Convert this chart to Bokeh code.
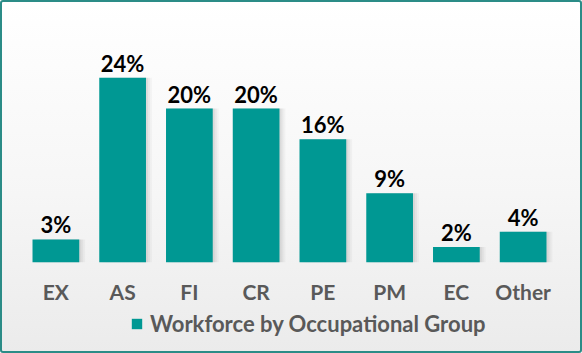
from bokeh.plotting import figure
from bokeh.models import ColumnDataSource, LabelSet, Legend, LegendItem, Range1d, FactorRange
from bokeh.core.properties import value
from bokeh.transform import dodge
from bokeh.layouts import column
from bokeh.embed import file_html
from bokeh.resources import INLINE

groups = ["EX", "AS", "FI", "CR", "PE", "PM", "EC", "Other"]
shares = [3, 24, 20, 20, 16, 9, 2, 4]
share_labels = ["3%", "24%", "20%", "20%", "16%", "9%", "2%", "4%"]
series_name = "Workforce by Occupational Group"

BAR = "#009893"
src = ColumnDataSource(dict(g=groups, v=shares, t=share_labels))

p = figure(x_range=groups, y_range=(0, 31.43), width=582, height=308,
           output_backend="svg", toolbar_location=None,
           min_border_left=22, min_border_right=26, min_border_top=20,
           min_border_bottom=46)
p.background_fill_color = None
p.border_fill_color = None
p.outline_line_color = None
p.x_range.range_padding = 0

# soft shadow
for i, a in enumerate([0.05, 0.04, 0.03]):
    p.vbar(x=dodge("g", 0.03 + 0.03 * i, range=p.x_range), top="v", bottom=-0.2,
           width=0.7, source=src, color="#000000", alpha=a, line_color=None)

r = p.vbar(x="g", top="v", width=0.7, source=src, color=BAR, line_color=None)

labels = LabelSet(x="g", y="v", text="t", source=src, text_align="center",
                  text_baseline="alphabetic", y_offset=6, text_font=value("Lato"),
                  text_font_style="bold", text_font_size="22px", text_color="#000000")
p.add_layout(labels)

p.yaxis.visible = False
p.grid.visible = False
ax = p.xaxis
ax.axis_line_color = None
ax.major_tick_line_color = None
ax.minor_tick_line_color = None
ax.major_label_standoff = 10
ax.major_label_text_font = "Lato"
ax.major_label_text_font_style = "bold"
ax.major_label_text_font_size = "21px"
ax.major_label_text_color = "#595959"

# legend strip (same series, zero-height and out of view so only its legend entry shows)
q = figure(width=582, height=45, x_range=FactorRange(*groups), y_range=Range1d(100, 101),
           output_backend="svg", toolbar_location=None,
           min_border_left=0, min_border_right=0, min_border_top=0, min_border_bottom=0)
q.axis.visible = False
q.grid.visible = False
q.background_fill_color = None
q.border_fill_color = None
q.outline_line_color = None
rl = q.vbar(x="g", top="v", bottom="v", width=0.7, source=src, color=BAR, line_color=None)
leg = Legend(items=[LegendItem(label=series_name, renderers=[rl])],
             location=(108, 16), orientation="horizontal",
             label_text_font="Lato", label_text_font_style="bold",
             label_text_font_size="22px", label_text_color="#595959",
             glyph_width=13, glyph_height=13, label_standoff=7,
             background_fill_alpha=0, border_line_alpha=0,
             padding=0, margin=0)
q.add_layout(leg)

layout = column(p, q, spacing=0)
layout.styles = {"background": "linear-gradient(to bottom, #ffffff 0%, #f6f6f6 55%, #ebebeb 100%)",
                 "box-shadow": "inset 0 0 0 2px #2b8c87", "border-radius": "3px"}

open("out.html", "w").write(file_html(layout, INLINE))
